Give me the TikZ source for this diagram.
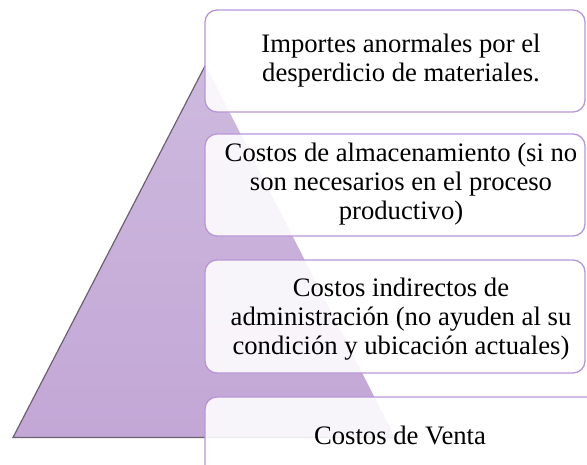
\documentclass[tikz,border=0pt]{standalone}
\usepackage{fontspec}
\setmainfont{Liberation Serif}
\newfontfamily\boxfont{Liberation Serif}
\definecolor{triTop}{HTML}{CDB9DE}
\definecolor{triBot}{HTML}{C3A7D6}
\definecolor{triEdge}{HTML}{6A6270}
\definecolor{boxLine}{HTML}{B996D6}
\tikzset{
  boxshape/.style={draw=boxLine, line width=1pt, rounded corners=9pt,
    fill=white, fill opacity=0.88, minimum width=285pt, inner sep=0pt},
  boxtext/.style={align=center, font=\boxfont\fontsize{20pt}{21.8pt}\selectfont,
    inner sep=0pt, text=black}
}
\begin{document}
\begin{tikzpicture}[x=0.75pt,y=-0.75pt]
\useasboundingbox (0,0) rectangle (587,465);
\clip (0,0) rectangle (587,465);
% triangle
\coordinate (apex) at (205.5,65);
\coordinate (bl) at (13,437.5);
\coordinate (br) at (395,437.5);
\shade[top color=triTop, bottom color=triBot] (apex) -- (br) -- (bl) -- cycle;
\draw[triEdge, line width=0.9pt] (apex) -- (bl) -- (br);
% boxes
\node[boxshape, minimum height=76.5pt] (b1) at (395,61) {};
\node[boxshape, minimum height=76.5pt] (b2) at (395,185) {};
\node[boxshape, minimum height=84.75pt] (b3) at (395,316.5) {};
\node[boxshape, minimum width=300pt, minimum height=76.5pt] (b4) at (405,448) {};
% texts
\node[boxtext] (t1) at ([xshift=4.5pt,yshift=0pt]b1.center) {Importes anormales por el\\desperdicio de materiales.};
\node[boxtext] (t2) at ([xshift=4.5pt,yshift=1pt]b2.center) {Costos de almacenamiento (si no\\son necesarios en el proceso\\productivo)};
\node[boxtext] (t3) at ([xshift=4.5pt,yshift=-2pt]b3.center) {Costos indirectos de\\administración (no ayuden al su\\condición y ubicación actuales)};
\node[boxtext] (t4) at (400,435) {Costos de Venta};
\end{tikzpicture}
\end{document}
